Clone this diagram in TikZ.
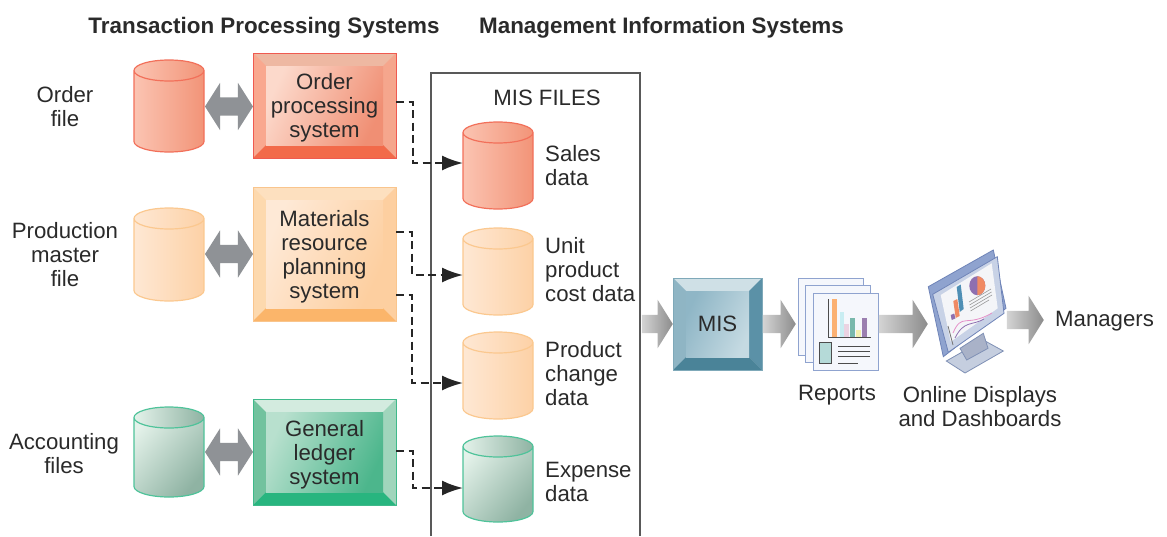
\documentclass[tikz,border=0pt]{standalone}
\usepackage{fontspec}
\setmainfont{Liberation Sans}
\usetikzlibrary{arrows.meta,calc,shapes.arrows}
\definecolor{arrowgray}{HTML}{8F9296}
\definecolor{inktext}{HTML}{2A2A2A}
\definecolor{redline}{HTML}{F2705A}
\definecolor{redlight}{HTML}{FBC4B2}
\definecolor{reddark}{HTML}{F29478}
\definecolor{orangeline}{HTML}{FBC88F}
\definecolor{orangelight}{HTML}{FEE8D4}
\definecolor{orangedark}{HTML}{FDD1A6}
\definecolor{greenline}{HTML}{4FC39A}
\definecolor{greenlight}{HTML}{E4F2EA}
\definecolor{greendark}{HTML}{8FB3A3}
\definecolor{redbevelline}{HTML}{EF5A50}
\definecolor{redtop}{HTML}{EEB8A2}
\definecolor{redleft}{HTML}{F9A88F}
\definecolor{redright}{HTML}{F5A68D}
\definecolor{redbottom}{HTML}{F26A4A}
\definecolor{redfacea}{HTML}{FCD9CB}
\definecolor{redfaceb}{HTML}{F08F74}
\definecolor{orangebevelline}{HTML}{F9C58D}
\definecolor{orangetop}{HTML}{FDE0BF}
\definecolor{orangeleft}{HTML}{FDD9AE}
\definecolor{orangeright}{HTML}{FDCFA0}
\definecolor{orangebottom}{HTML}{FBB56A}
\definecolor{orangefacea}{HTML}{FEE9D6}
\definecolor{orangefaceb}{HTML}{FDCFA0}
\definecolor{greenbevelline}{HTML}{3FB98A}
\definecolor{greentop}{HTML}{D3EBDF}
\definecolor{greenleft}{HTML}{72C29E}
\definecolor{greenright}{HTML}{A0D5BC}
\definecolor{greenbottom}{HTML}{28B57F}
\definecolor{greenfacea}{HTML}{B8E0CE}
\definecolor{greenfaceb}{HTML}{4CB68C}
\definecolor{misbevelline}{HTML}{7FA9B9}
\definecolor{mistop}{HTML}{CFE0E6}
\definecolor{misleft}{HTML}{8FB5C4}
\definecolor{misright}{HTML}{5B91A7}
\definecolor{misbottom}{HTML}{4A8398}
\definecolor{misfacea}{HTML}{8FB6C6}
\definecolor{misfaceb}{HTML}{C5DAE2}
\definecolor{arrowlight}{HTML}{D4D4D4}
\definecolor{arrowdark}{HTML}{8C8C8C}
\definecolor{pageline}{HTML}{8FA3CF}
\definecolor{pagefill}{HTML}{F5F7FC}
\definecolor{barorange}{HTML}{FBB072}
\definecolor{barcyan}{HTML}{C9EDF2}
\definecolor{barpink}{HTML}{EBD3E2}
\definecolor{barteal}{HTML}{79B8AC}
\definecolor{baryellow}{HTML}{F3F0B0}
\definecolor{barpurple}{HTML}{9B7FB0}
\definecolor{thumbfill}{HTML}{B5DAD8}
\definecolor{standlight}{HTML}{C5CEDF}
\definecolor{standdark}{HTML}{A9B2C8}
\definecolor{standline}{HTML}{7F90B5}
\definecolor{screenline}{HTML}{6F84B8}
\definecolor{screenrim}{HTML}{C8D2E6}
\definecolor{screenface}{HTML}{F4F5F8}
\definecolor{chartblue}{HTML}{4F8FB5}
\definecolor{chartorange}{HTML}{F08A64}
\definecolor{chartpurple}{HTML}{8E6FB0}
\definecolor{chartpink}{HTML}{E58FC8}

\newcommand{\storebody}[3][90]{%
  \shade[left color=#2light,right color=#2dark,shading angle=#1]
    ([yshift=-10.5pt]#3.north west) arc[start angle=180,end angle=0,x radius=35pt,y radius=10.5pt]
    -- ([yshift=10.5pt]#3.south east) arc[start angle=0,end angle=-180,x radius=35pt,y radius=10.5pt] -- cycle;
  \shade[left color=#2light,right color=#2dark]
    ([yshift=-10.5pt]#3.north) ellipse (35pt and 10.5pt);
  \draw[draw=#2line,line width=1.2pt]
    ([yshift=-10.5pt]#3.north west) arc[start angle=180,end angle=0,x radius=35pt,y radius=10.5pt]
    -- ([yshift=10.5pt]#3.south east) arc[start angle=0,end angle=-180,x radius=35pt,y radius=10.5pt] -- cycle
    ([yshift=-10.5pt]#3.north west) arc[start angle=180,end angle=360,x radius=35pt,y radius=10.5pt];
}

\begin{document}
\begin{tikzpicture}[
  x=1pt,y=-1pt,
  every node/.style={text=inktext,font=\fontsize{22.2}{24}\selectfont},
  label node/.style={align=center,inner sep=0},
  side node/.style={align=left,inner sep=0,anchor=west},
  title node/.style={inner sep=0,font=\fontsize{22.4}{24}\selectfont\bfseries},
  store node/.style={
    inner sep=0,
    outer sep=0,
    minimum width=70pt,
    minimum height=#1,
  },
  bevel node/.style={
    draw=#1bevelline,
    line width=1pt,
    align=center,
    inner sep=0,
    outer sep=0,
    text depth=0pt,
    path picture={
      \fill[#1top] (path picture bounding box.north west) rectangle (path picture bounding box.south east);
      \fill[#1left] (path picture bounding box.north west) -- ([shift={(13pt,-13pt)}]path picture bounding box.north west)
        -- ([shift={(13pt,13pt)}]path picture bounding box.south west) -- (path picture bounding box.south west) -- cycle;
      \fill[#1right] (path picture bounding box.north east) -- ([shift={(-13pt,-13pt)}]path picture bounding box.north east)
        -- ([shift={(-13pt,13pt)}]path picture bounding box.south east) -- (path picture bounding box.south east) -- cycle;
      \fill[#1bottom] (path picture bounding box.south west) -- ([shift={(13pt,13pt)}]path picture bounding box.south west)
        -- ([shift={(-13pt,13pt)}]path picture bounding box.south east) -- (path picture bounding box.south east) -- cycle;
      \shade[left color=#1facea,right color=#1faceb,shading angle=65] ([shift={(13pt,-13pt)}]path picture bounding box.north west)
        rectangle ([shift={(-13pt,13pt)}]path picture bounding box.south east);
    },
  },
  both arrow/.style={
    double arrow,
    fill=arrowgray,
    inner xsep=0,
    inner ysep=9pt,
    minimum width=47pt,
    minimum height=48pt,
    double arrow head extend=14.5pt,
    double arrow tip angle=115,
  },
  flow arrow/.style={
    single arrow,
    anchor=tip,
    left color=arrowlight,
    right color=arrowdark,
    inner xsep=0,
    inner ysep=9pt,
    minimum width=48pt,
    minimum height=#1,
    single arrow head extend=15pt,
    single arrow tip angle=116,
  },
  feed/.style={
    line width=2pt,
    draw=black!85,
    dash pattern=on 8pt off 4.5pt,
    -{Latex[length=21pt,width=15pt]},
  },
  report page/.style={
    rectangle,
    draw=pageline,
    line width=1pt,
    fill=pagefill,
    minimum width=65pt,
    minimum height=77pt,
    inner sep=0,
  },
  ]
  \useasboundingbox (0,0) rectangle (1167,536);
  \path[fill=white] (0,0) rectangle (1167,536);
  % headings
  \node[title node] (tps-title) at (264,27.5) {Transaction Processing Systems};
  \node[title node] (mis-title) at (661.5,27.5) {Management Information Systems};
  % file stores on the left
  \begin{scope}
    \node[store node=92pt] (order-file) at (169,106) {};
    \node[store node=93pt] (production-file) at (169,254.5) {};
    \node[store node=90pt] (accounting-file) at (169,452) {};
    \storebody{red}{order-file}
    \storebody{orange}{production-file}
    \storebody[50]{green}{accounting-file}
    \node[label node] (order-label) at (65,107) {Order\\file};
    \node[label node] (production-label) at (65,255) {Production\\master\\file};
    \node[label node] (accounting-label) at (64,454) {Accounting\\files};
  \end{scope}
  % systems
  \begin{scope}
    \node[bevel node=red,text depth=-4pt,minimum width=143pt,minimum height=105pt] (order-system) at (324.5,105.5) {Order\\processing\\system};
    \node[bevel node=orange,minimum width=143pt,minimum height=134pt] (materials-system) at (324.5,254) {Materials\\resource\\planning\\system};
    \node[bevel node=green,text depth=-2pt,minimum width=143pt,minimum height=106pt] (ledger-system) at (324.5,452) {General\\ledger\\system};
    \node[both arrow] (order-link) at (229,106.5) {};
    \node[both arrow] (production-link) at (229,254) {};
    \node[both arrow] (accounting-link) at (229,452) {};
  \end{scope}
  % the files box, open at the bottom
  \draw[draw=black!65,line width=1.2pt] (431,536) |- (640,73) -- (640,536);
  \node[label node] (files-title) at (547,98) {MIS FILES};
  \begin{scope}
    \node[store node=87pt] (sales-data) at (498,165.5) {};
    \node[store node=87pt] (cost-data) at (498,271.5) {};
    \node[store node=87pt] (change-data) at (498,375.5) {};
    \node[store node=86pt] (expense-data) at (498,479) {};
    \storebody{red}{sales-data}
    \storebody{orange}{cost-data}
    \storebody{orange}{change-data}
    \storebody[50]{green}{expense-data}
    \node[side node] (sales-label) at (545,166) {Sales\\data};
    \node[side node] (cost-label) at (545,269.5) {Unit\\product\\cost data};
    \node[side node] (change-label) at (545,374) {Product\\change\\data};
    \node[side node] (expense-label) at (545,482) {Expense\\data};
  \end{scope}
  % dashed feeds
  \draw[feed] ([yshift=3.5pt]order-system.east) -- ++(17pt,0) |- ([yshift=2.5pt]sales-data.west);
  \draw[feed] ([yshift=22pt]materials-system.east) -- ++(16pt,0) |- ([yshift=-3.5pt]cost-data.west);
  \draw[feed] ([yshift=-41pt]materials-system.east) -- ++(16pt,0) |- ([yshift=-7.5pt]change-data.west);
  \draw[feed] ([yshift=1pt]ledger-system.east) -- ++(17pt,0) |- ([yshift=-9pt]expense-data.west);
  % right hand flow
  \node[bevel node=mis,text depth=-2pt,minimum width=89pt,minimum height=92pt] (mis-box) at (717.5,324) {MIS};
  \node[flow arrow=31pt] (files-arrow) at (mis-box.west) {};
  \node[report page] (page-back) at (830.5,316.5) {};
  \node[report page] (page-middle) at (837.5,323.5) {};
  \node[report page] (page-front) at (845.5,332) {};
  \node[flow arrow=33pt] (mis-arrow) at (796,324) {};
  \node[flow arrow=49pt] (reports-arrow) at (928,324) {};
  \node[flow arrow=37pt] (screen-arrow) at (1044,320) {};
  \begin{scope}
    \fill[barorange] (832,299) rectangle (837,337);
    \fill[barcyan] (840,312) rectangle (844,337);
    \fill[barpink] (844,324) rectangle (849,337);
    \fill[barteal] (850,318) rectangle (855,337);
    \fill[baryellow] (856,330) rectangle (861,337);
    \fill[barpurple] (862,318) rectangle (867,337);
    \draw[line width=1pt,draw=black!70] (828,299) |- (871,337);
    \draw[draw=black!70,fill=thumbfill,line width=1pt] (819,342) rectangle (831,363);
    \draw[line width=1pt,draw=black!70] (838,346) -- (870,346) (838,351) -- (870,351) (838,356) -- (870,356) (838,363) -- (858,363);
  \end{scope}
  \node[label node] (reports-label) at (837,395) {Reports};
  % monitor
  \begin{scope}[line width=.8pt]
    \filldraw[fill=standlight,draw=standline] (946.3,361) -- (983.3,340) -- (1003.3,351) -- (965,373) -- cycle;
    \filldraw[fill=standdark,draw=standline] (960,348.3) -- (983.3,333.3) -- (988,348.3) -- (966.7,360) -- cycle;
    \filldraw[fill=pageline,draw=screenline] (928.3,286.7) -- (993.3,250) -- (1006,308.3) -- (943.3,356.7) -- cycle;
    \filldraw[fill=screenrim,draw=screenline] (932.7,294.3) -- (997.3,256.7) -- (1004,313.3) -- (948.3,352.3) -- cycle;
    \fill[screenface] (940.7,295) -- (991.7,263.3) -- (997.7,308.3) -- (950.7,341.7) -- cycle;
    \fill[chartblue] (956.7,287) -- (960.7,284.5) -- (963.7,309) -- (959.7,312) -- cycle;
    \fill[chartorange] (953.3,301) -- (957.3,299) -- (959.7,316) -- (955.7,318) -- cycle;
    \fill[chartpurple] (950.7,315) -- (954.3,313.5) -- (955.3,318.5) -- (951.7,320) -- cycle;
    \fill[chartpurple] (977.3,285.7) ellipse (8pt and 9.5pt);
    \fill[chartorange] (977.3,276.2) arc[start angle=90,end angle=-90,x radius=8pt,y radius=9.5pt] -- cycle;
    \draw[line width=.6pt,draw=black!40] (969,302) -- (991,289) (969.5,305) -- (991.5,292) (970,308) -- (992,295) (970.5,311) -- (989,300);
    \draw[line width=.8pt,draw=black!55] (948,326) -- (953,345);
    \draw[line width=.8pt,draw=chartpink] (953,333) .. controls (962,312) and (966,328) .. (992,313);
    \draw[line width=.8pt,draw=chartpurple] (955,338) .. controls (964,320) and (972,326) .. (984,319);
  \end{scope}
  \node[label node] (online-label) at (980,407) {Online Displays\\and Dashboards};
  \node[side node] (managers-label) at (1055,321.5) {Managers};
\end{tikzpicture}
\end{document}
